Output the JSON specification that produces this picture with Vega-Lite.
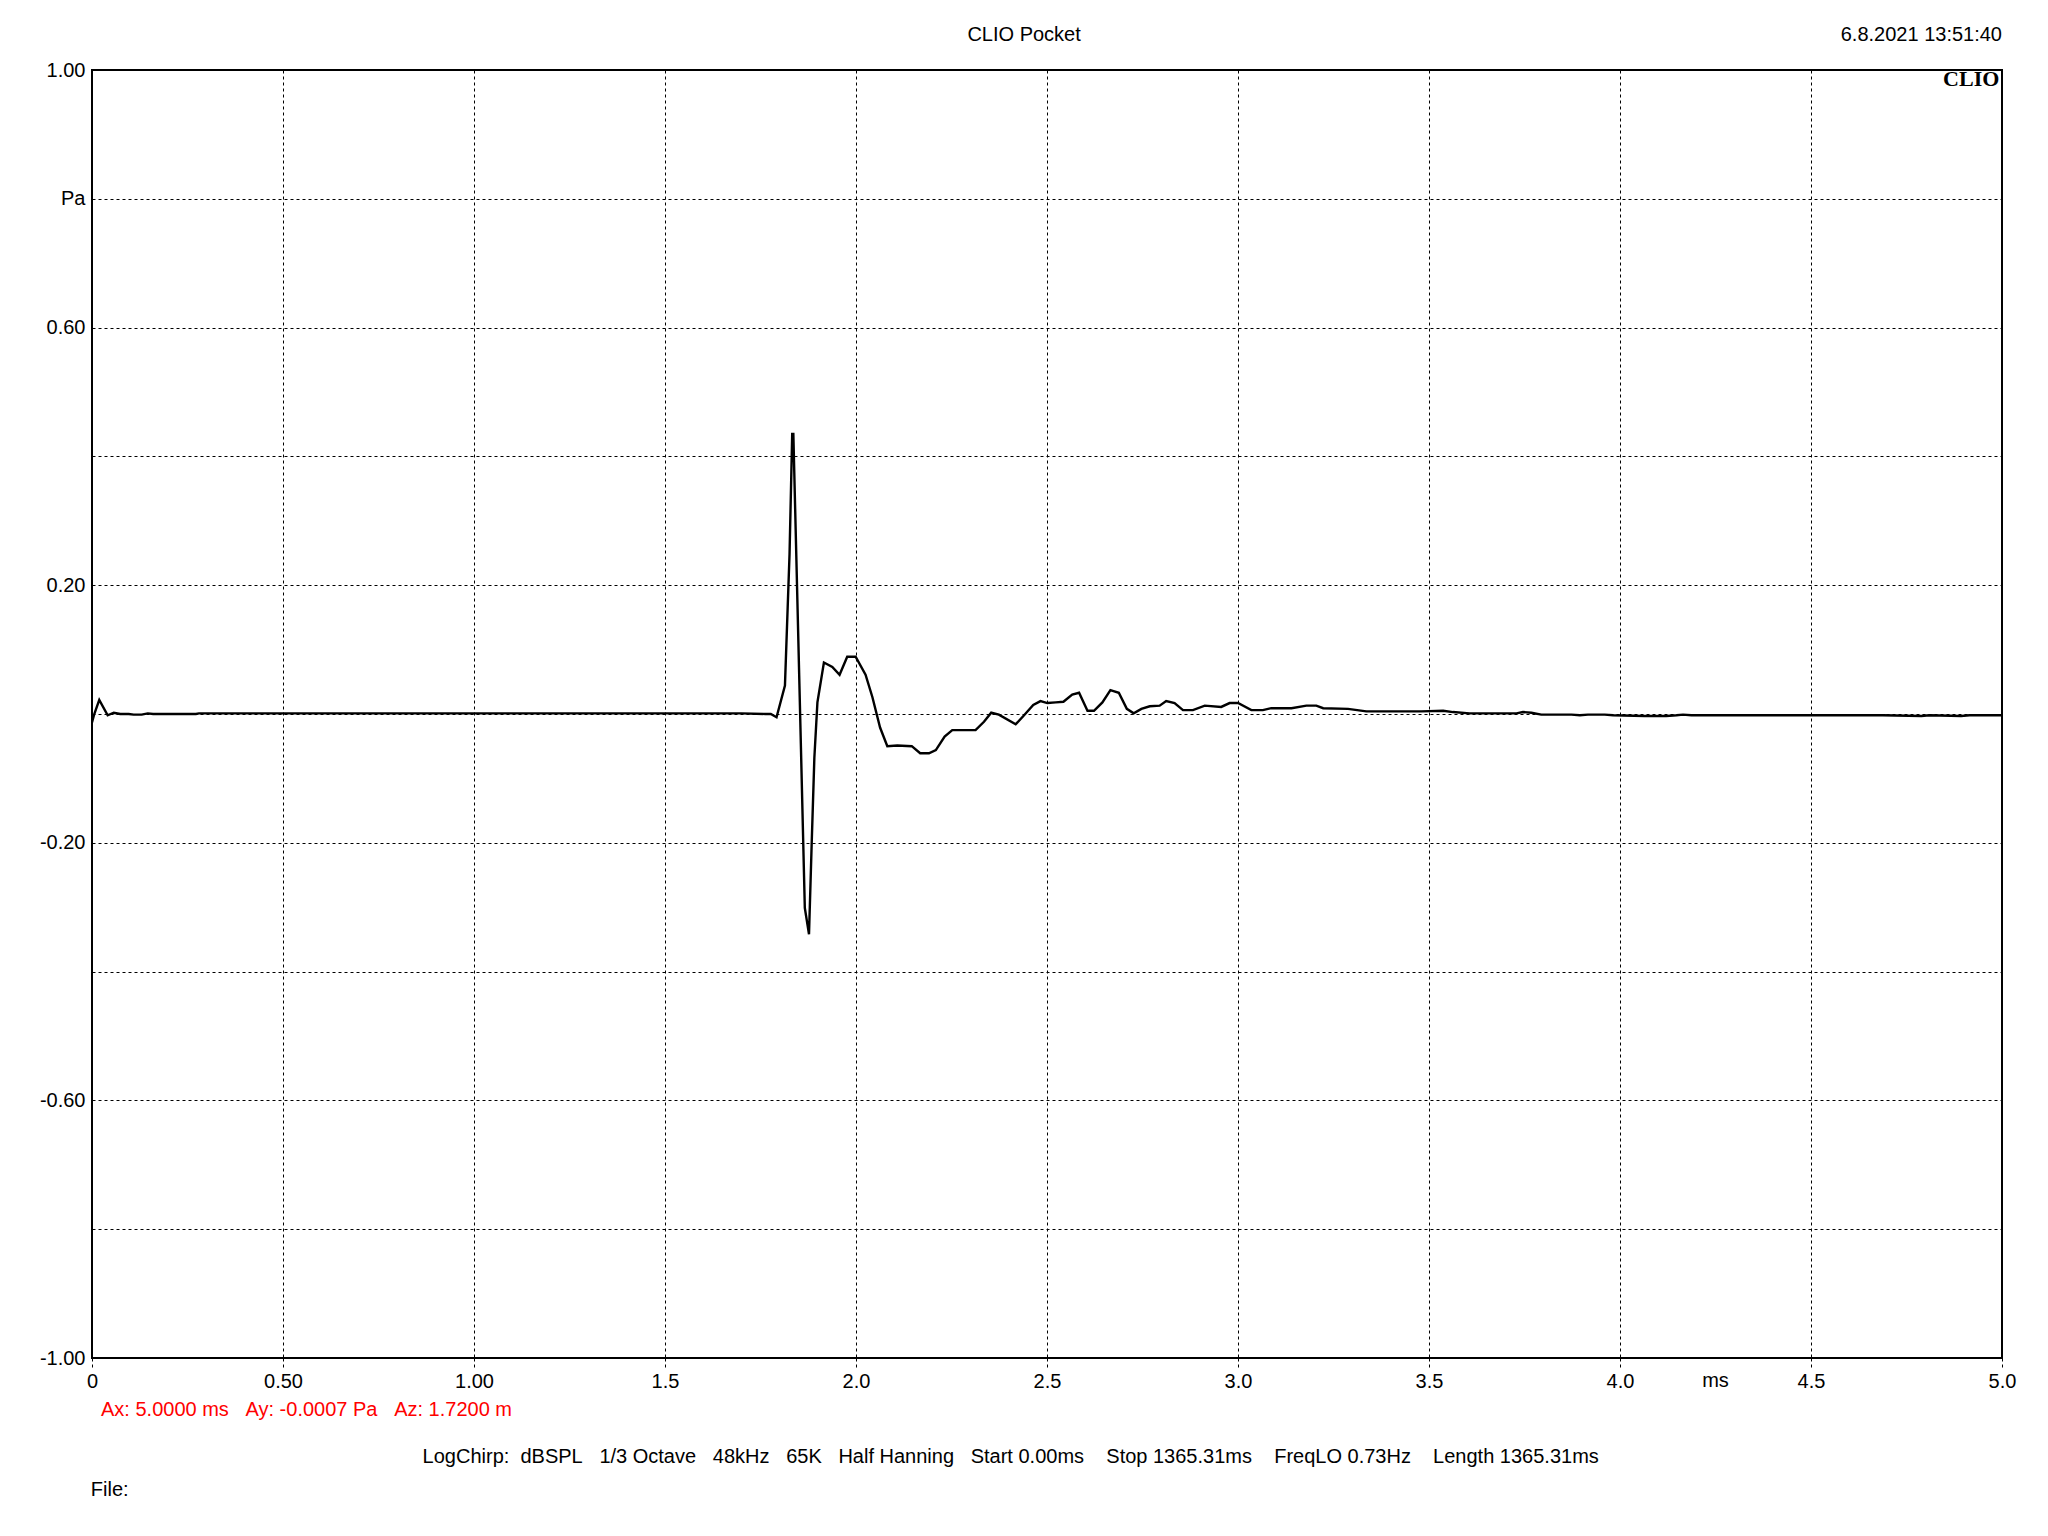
{
  "$schema": "https://vega.github.io/schema/vega-lite/v6.json",
  "width": 1910,
  "height": 1288,
  "autosize": {"type": "none"},
  "padding": {"left": 92, "top": 70, "right": 46, "bottom": 178},
  "background": "white",
  "config": {
    "view": {"stroke": "#000000", "strokeWidth": 2},
    "font": "Liberation Sans",
    "text": {"font": "Liberation Sans", "fontSize": 20, "color": "#000000"}
  },
  "datasets": {
    "one": [{}],
    "impulse": [
      {"t": 0, "p": -0.013}, {"t": 0.006, "p": 0.0}, {"t": 0.019, "p": 0.022}, {"t": 0.041, "p": -0.002},
      {"t": 0.057, "p": 0.002}, {"t": 0.074, "p": 0.0}, {"t": 0.096, "p": 0.0}, {"t": 0.109, "p": -0.001},
      {"t": 0.13, "p": -0.001}, {"t": 0.146, "p": 0.001}, {"t": 0.16, "p": 0.0}, {"t": 0.272, "p": 0.0},
      {"t": 0.28, "p": 0.001}, {"t": 1.7, "p": 0.001}, {"t": 1.763, "p": 0.0}, {"t": 1.777, "p": 0.0},
      {"t": 1.792, "p": -0.005}, {"t": 1.814, "p": 0.044}, {"t": 1.826, "p": 0.248}, {"t": 1.833, "p": 0.435},
      {"t": 1.836, "p": 0.435}, {"t": 1.866, "p": -0.301}, {"t": 1.877, "p": -0.342}, {"t": 1.884, "p": -0.201},
      {"t": 1.891, "p": -0.068}, {"t": 1.899, "p": 0.018}, {"t": 1.916, "p": 0.08}, {"t": 1.938, "p": 0.073},
      {"t": 1.957, "p": 0.061}, {"t": 1.977, "p": 0.089}, {"t": 1.999, "p": 0.089}, {"t": 2.025, "p": 0.061},
      {"t": 2.043, "p": 0.026}, {"t": 2.063, "p": -0.021}, {"t": 2.082, "p": -0.05}, {"t": 2.108, "p": -0.049},
      {"t": 2.146, "p": -0.05}, {"t": 2.168, "p": -0.061}, {"t": 2.191, "p": -0.061}, {"t": 2.209, "p": -0.056},
      {"t": 2.232, "p": -0.035}, {"t": 2.252, "p": -0.025}, {"t": 2.313, "p": -0.025}, {"t": 2.335, "p": -0.012},
      {"t": 2.354, "p": 0.002}, {"t": 2.374, "p": -0.001}, {"t": 2.418, "p": -0.016}, {"t": 2.44, "p": -0.002},
      {"t": 2.464, "p": 0.014}, {"t": 2.483, "p": 0.02}, {"t": 2.501, "p": 0.017}, {"t": 2.523, "p": 0.018},
      {"t": 2.543, "p": 0.019}, {"t": 2.566, "p": 0.03}, {"t": 2.584, "p": 0.033}, {"t": 2.606, "p": 0.005},
      {"t": 2.623, "p": 0.005}, {"t": 2.645, "p": 0.018}, {"t": 2.666, "p": 0.037}, {"t": 2.688, "p": 0.033},
      {"t": 2.709, "p": 0.008}, {"t": 2.727, "p": 0.001}, {"t": 2.747, "p": 0.008}, {"t": 2.769, "p": 0.012},
      {"t": 2.795, "p": 0.013}, {"t": 2.812, "p": 0.02}, {"t": 2.834, "p": 0.017}, {"t": 2.856, "p": 0.006},
      {"t": 2.882, "p": 0.006}, {"t": 2.913, "p": 0.013}, {"t": 2.956, "p": 0.011}, {"t": 2.978, "p": 0.017},
      {"t": 3.0, "p": 0.017}, {"t": 3.035, "p": 0.006}, {"t": 3.065, "p": 0.006}, {"t": 3.087, "p": 0.009},
      {"t": 3.14, "p": 0.009}, {"t": 3.179, "p": 0.013}, {"t": 3.205, "p": 0.013}, {"t": 3.223, "p": 0.009},
      {"t": 3.288, "p": 0.008}, {"t": 3.336, "p": 0.004}, {"t": 3.48, "p": 0.004}, {"t": 3.537, "p": 0.005},
      {"t": 3.563, "p": 0.003}, {"t": 3.606, "p": 0.001}, {"t": 3.729, "p": 0.001}, {"t": 3.746, "p": 0.003},
      {"t": 3.768, "p": 0.002}, {"t": 3.794, "p": -0.001}, {"t": 3.873, "p": -0.001}, {"t": 3.895, "p": -0.002},
      {"t": 3.916, "p": -0.001}, {"t": 3.96, "p": -0.001}, {"t": 3.982, "p": -0.002}, {"t": 4.065, "p": -0.003},
      {"t": 4.121, "p": -0.003}, {"t": 4.148, "p": -0.002}, {"t": 4.165, "p": -0.001}, {"t": 4.187, "p": -0.002},
      {"t": 4.688, "p": -0.002}, {"t": 4.789, "p": -0.003}, {"t": 4.81, "p": -0.002}, {"t": 4.893, "p": -0.003},
      {"t": 4.915, "p": -0.002}, {"t": 5.0, "p": -0.002}
    ]
  },
  "layer": [
    {
      "data": {"name": "impulse"},
      "mark": {"type": "line", "color": "#000000", "strokeWidth": 2.4, "clip": true, "interpolate": "linear"},
      "encoding": {
        "x": {
          "field": "t", "type": "quantitative",
          "scale": {"domain": [0, 5], "nice": false, "zero": false},
          "axis": {
            "title": null,
            "values": [0, 0.5, 1, 1.5, 2, 2.5, 3, 3.5, 4, 4.5, 5],
            "labelExpr": "datum.value == 0 ? '0' : (datum.value <= 1 ? format(datum.value, '.2f') : format(datum.value, '.1f'))",
            "labelFont": "Liberation Sans", "labelFontSize": 20, "labelColor": "#000000",
            "labelPadding": 3, "labelFlush": false, "labelOverlap": false,
            "tickSize": 10, "tickColor": "#000000", "tickWidth": 1, "tickDash": [3, 3],
            "domain": false,
            "grid": true, "gridColor": "#000000", "gridDash": [3, 3], "gridWidth": 1, "gridOpacity": 1
          }
        },
        "y": {
          "field": "p", "type": "quantitative",
          "scale": {"domain": [-1, 1], "nice": false, "zero": false},
          "axis": {
            "title": null,
            "values": [-1, -0.8, -0.6, -0.4, -0.2, 0, 0.2, 0.4, 0.6, 0.8, 1],
            "labelExpr": "abs(datum.value - 0.8) < 0.001 ? 'Pa' : ((abs(round(datum.value * 10)) % 4 == 2 || abs(round(datum.value * 10)) == 10) ? ((datum.value < 0 ? '-' : '') + format(abs(datum.value), '.2f')) : '')",
            "labelFont": "Liberation Sans", "labelFontSize": 20, "labelColor": "#000000",
            "labelPadding": 7, "labelFlush": false, "labelOverlap": false, "labelBaseline": "middle",
            "ticks": false, "domain": false,
            "grid": true, "gridColor": "#000000", "gridDash": [3, 3], "gridWidth": 1, "gridOpacity": 1
          }
        }
      }
    },
    {
      "data": {"name": "one"},
      "mark": {"type": "text", "align": "center", "baseline": "middle", "fontSize": 20},
      "encoding": {"x": {"datum": 2.44}, "y": {"datum": 1.054}, "text": {"value": "CLIO Pocket"}}
    },
    {
      "data": {"name": "one"},
      "mark": {"type": "text", "align": "right", "baseline": "middle", "fontSize": 20},
      "encoding": {"x": {"datum": 5.0}, "y": {"datum": 1.054}, "text": {"value": "6.8.2021 13:51:40"}}
    },
    {
      "data": {"name": "one"},
      "mark": {"type": "text", "align": "right", "baseline": "top", "fontSize": 22, "font": "Liberation Serif", "fontWeight": "bold"},
      "encoding": {"x": {"datum": 4.993}, "y": {"datum": 1.002}, "text": {"value": "CLIO"}}
    },
    {
      "data": {"name": "one"},
      "mark": {"type": "text", "align": "center", "baseline": "middle", "fontSize": 20},
      "encoding": {"x": {"datum": 4.25}, "y": {"datum": -1.036}, "text": {"value": "ms"}}
    },
    {
      "data": {"name": "one"},
      "mark": {"type": "text", "align": "left", "baseline": "middle", "fontSize": 20, "color": "#ff0000"},
      "encoding": {"x": {"datum": 0.0236}, "y": {"datum": -1.081}, "text": {"value": "Ax: 5.0000 ms\u00a0\u00a0\u00a0Ay: -0.0007 Pa\u00a0\u00a0\u00a0Az: 1.7200 m"}}
    },
    {
      "data": {"name": "one"},
      "mark": {"type": "text", "align": "center", "baseline": "middle", "fontSize": 20},
      "encoding": {"x": {"datum": 2.405}, "y": {"datum": -1.153}, "text": {"value": "LogChirp:\u00a0\u00a0dBSPL\u00a0\u00a0\u00a01/3 Octave\u00a0\u00a0\u00a048kHz\u00a0\u00a0\u00a065K\u00a0\u00a0\u00a0Half Hanning\u00a0\u00a0\u00a0Start 0.00ms\u00a0\u00a0\u00a0\u00a0Stop 1365.31ms\u00a0\u00a0\u00a0\u00a0FreqLO 0.73Hz\u00a0\u00a0\u00a0\u00a0Length 1365.31ms"}}
    },
    {
      "data": {"name": "one"},
      "mark": {"type": "text", "align": "left", "baseline": "middle", "fontSize": 20},
      "encoding": {"x": {"datum": -0.003}, "y": {"datum": -1.205}, "text": {"value": "File:"}}
    }
  ]
}
